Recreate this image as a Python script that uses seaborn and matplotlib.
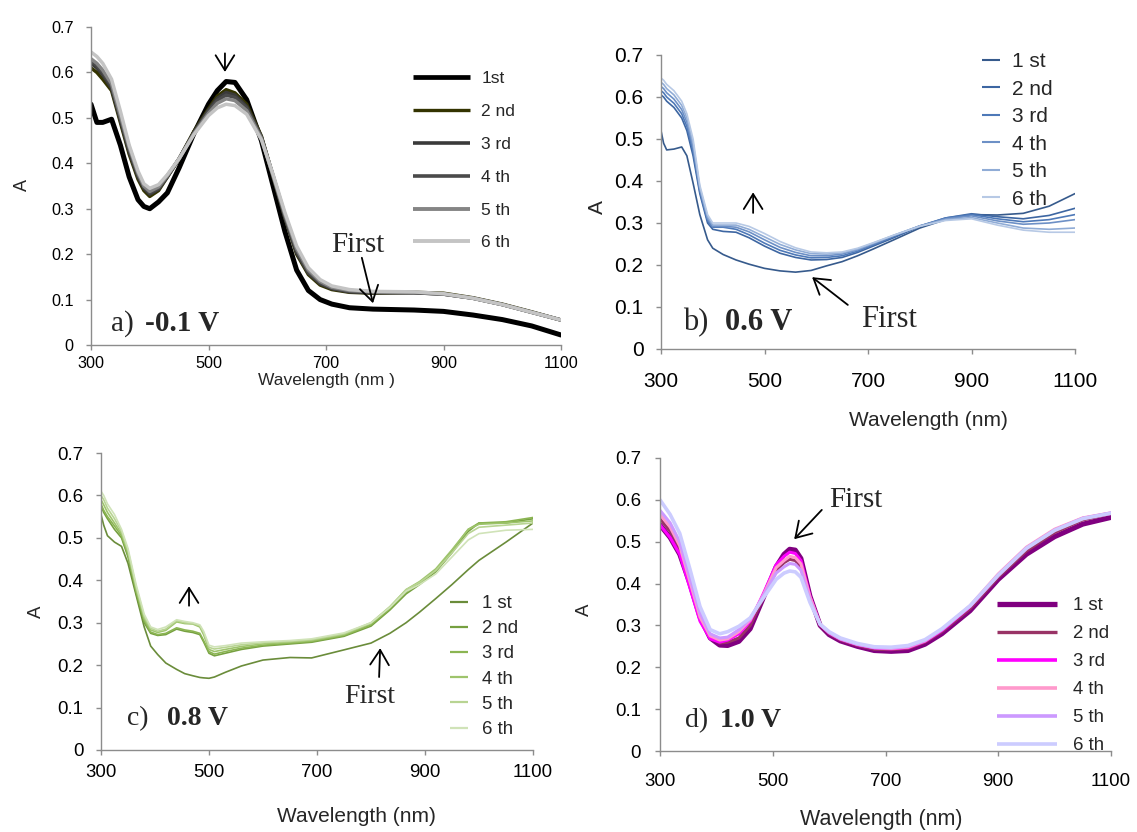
import numpy as np
import pandas as pd
import matplotlib
matplotlib.use("Agg")
import matplotlib.pyplot as plt
import seaborn as sns
from matplotlib.lines import Line2D

# ---------------- data ----------------
RUNS_A = ["1st", "2 nd", "3 rd", "4 th", "5 th", "6 th"]
RUNS = ["1 st", "2 nd", "3 rd", "4 th", "5 th", "6 th"]

# panel a) -0.1 V
WL_A = [300, 310, 320, 335, 350, 365, 380, 390, 400, 415, 430, 450, 475, 500, 515, 530, 545,
        565, 590, 610, 630, 650, 670, 690, 710, 740, 780, 850, 900, 950, 1000, 1050, 1100]
A1 = [0.53, 0.49, 0.49, 0.497, 0.44, 0.37, 0.32, 0.305, 0.30, 0.315, 0.335, 0.39, 0.465, 0.53, 0.56, 0.58, 0.578,
      0.54, 0.45, 0.35, 0.25, 0.165, 0.12, 0.10, 0.09, 0.082, 0.079, 0.077, 0.074, 0.066, 0.056, 0.042, 0.022]
A2 = [0.61, 0.60, 0.585, 0.56, 0.49, 0.42, 0.365, 0.34, 0.327, 0.34, 0.37, 0.41, 0.47, 0.52, 0.548, 0.562, 0.555,
      0.53, 0.46, 0.37, 0.28, 0.20, 0.155, 0.132, 0.122, 0.116, 0.114, 0.116, 0.114, 0.104, 0.09, 0.073, 0.055]
A3 = [0.62, 0.61, 0.595, 0.565, 0.495, 0.425, 0.37, 0.345, 0.332, 0.343, 0.37, 0.41, 0.468, 0.517, 0.543, 0.556, 0.55,
      0.525, 0.458, 0.37, 0.28, 0.203, 0.158, 0.135, 0.124, 0.117, 0.115, 0.115, 0.112, 0.103, 0.089, 0.072, 0.055]
A4 = [0.625, 0.615, 0.60, 0.57, 0.50, 0.43, 0.375, 0.348, 0.335, 0.345, 0.372, 0.41, 0.466, 0.515, 0.538, 0.55, 0.545,
      0.522, 0.457, 0.372, 0.283, 0.207, 0.16, 0.137, 0.125, 0.118, 0.116, 0.115, 0.112, 0.103, 0.089, 0.072, 0.055]
A5 = [0.63, 0.62, 0.605, 0.575, 0.505, 0.435, 0.378, 0.35, 0.338, 0.348, 0.373, 0.41, 0.465, 0.51, 0.532, 0.542, 0.538,
      0.516, 0.455, 0.373, 0.287, 0.212, 0.165, 0.14, 0.127, 0.12, 0.117, 0.116, 0.112, 0.103, 0.089, 0.072, 0.055]
A6 = [0.645, 0.635, 0.62, 0.585, 0.515, 0.44, 0.383, 0.355, 0.345, 0.353, 0.375, 0.41, 0.463, 0.505, 0.522, 0.53, 0.527,
      0.508, 0.452, 0.375, 0.292, 0.218, 0.17, 0.144, 0.13, 0.122, 0.118, 0.117, 0.113, 0.103, 0.089, 0.072, 0.055]

# panel b) 0.6 V
WL_B = [300, 305, 311, 325, 340, 350, 362, 375, 390, 400, 420, 445, 470, 500, 530, 560, 590, 620, 650, 680,
        710, 750, 800, 850, 900, 950, 1000, 1050, 1100]
B1 = [0.52, 0.49, 0.474, 0.476, 0.481, 0.46, 0.395, 0.32, 0.26, 0.24, 0.225, 0.212, 0.202, 0.192, 0.186, 0.183,
      0.187, 0.198, 0.208, 0.222, 0.238, 0.26, 0.288, 0.308, 0.32, 0.319, 0.323, 0.34, 0.37]
B2 = [0.605, 0.60, 0.59, 0.575, 0.55, 0.52, 0.46, 0.37, 0.30, 0.285, 0.28, 0.278, 0.265, 0.245, 0.228, 0.218,
      0.212, 0.213, 0.218, 0.23, 0.245, 0.265, 0.292, 0.312, 0.322, 0.315, 0.31, 0.318, 0.335]
B3 = [0.615, 0.61, 0.60, 0.585, 0.56, 0.53, 0.47, 0.375, 0.305, 0.29, 0.29, 0.285, 0.272, 0.252, 0.235, 0.224,
      0.217, 0.218, 0.222, 0.233, 0.248, 0.268, 0.293, 0.312, 0.32, 0.31, 0.303, 0.308, 0.32]
B4 = [0.625, 0.62, 0.61, 0.595, 0.57, 0.54, 0.48, 0.38, 0.31, 0.292, 0.292, 0.29, 0.279, 0.26, 0.242, 0.23,
      0.222, 0.222, 0.226, 0.236, 0.25, 0.27, 0.293, 0.31, 0.317, 0.305, 0.297, 0.30, 0.308]
B5 = [0.635, 0.63, 0.62, 0.605, 0.58, 0.55, 0.49, 0.385, 0.315, 0.295, 0.295, 0.295, 0.285, 0.267, 0.249, 0.236,
      0.227, 0.226, 0.229, 0.238, 0.252, 0.271, 0.293, 0.308, 0.313, 0.30, 0.288, 0.285, 0.288]
B6 = [0.645, 0.64, 0.63, 0.615, 0.59, 0.56, 0.50, 0.39, 0.32, 0.30, 0.30, 0.30, 0.292, 0.275, 0.256, 0.241,
      0.231, 0.229, 0.231, 0.24, 0.253, 0.271, 0.292, 0.306, 0.31, 0.295, 0.283, 0.278, 0.278]

# panel c) 0.8 V
WL_C = [300, 305, 312, 325, 338, 350, 365, 380, 392, 405, 420, 440, 455, 470, 483, 490, 500, 510, 530, 560,
        600, 650, 690, 750, 800, 835, 865, 890, 920, 950, 980, 1000, 1050, 1100]
C1 = [0.555, 0.53, 0.505, 0.49, 0.48, 0.44, 0.365, 0.29, 0.245, 0.225, 0.205, 0.19, 0.18, 0.175, 0.171, 0.17,
      0.169, 0.172, 0.183, 0.198, 0.212, 0.218, 0.217, 0.236, 0.252, 0.275, 0.30, 0.325, 0.357, 0.39, 0.425,
      0.447, 0.49, 0.535]
C2 = [0.575, 0.56, 0.545, 0.52, 0.50, 0.455, 0.37, 0.30, 0.275, 0.27, 0.272, 0.285, 0.28, 0.277, 0.272, 0.255,
      0.228, 0.222, 0.228, 0.237, 0.245, 0.25, 0.254, 0.268, 0.292, 0.33, 0.368, 0.39, 0.42, 0.465, 0.515,
      0.535, 0.535, 0.545]
C3 = [0.58, 0.565, 0.55, 0.528, 0.505, 0.46, 0.375, 0.305, 0.278, 0.272, 0.275, 0.288, 0.283, 0.28, 0.275, 0.258,
      0.232, 0.226, 0.232, 0.24, 0.247, 0.252, 0.256, 0.27, 0.295, 0.333, 0.372, 0.393, 0.424, 0.47, 0.52,
      0.535, 0.538, 0.548]
C4 = [0.59, 0.578, 0.56, 0.535, 0.51, 0.465, 0.38, 0.31, 0.283, 0.277, 0.282, 0.302, 0.298, 0.297, 0.29, 0.272,
      0.237, 0.232, 0.237, 0.244, 0.25, 0.254, 0.258, 0.272, 0.298, 0.337, 0.378, 0.397, 0.427, 0.472, 0.52,
      0.532, 0.535, 0.54]
C5 = [0.60, 0.59, 0.57, 0.545, 0.515, 0.47, 0.385, 0.315, 0.287, 0.28, 0.285, 0.305, 0.30, 0.298, 0.293, 0.277,
      0.242, 0.238, 0.242, 0.248, 0.253, 0.256, 0.26, 0.274, 0.30, 0.338, 0.378, 0.395, 0.423, 0.465, 0.51,
      0.525, 0.53, 0.535]
C6 = [0.61, 0.60, 0.58, 0.555, 0.52, 0.475, 0.39, 0.32, 0.29, 0.284, 0.29, 0.307, 0.303, 0.30, 0.295, 0.28,
      0.247, 0.243, 0.246, 0.252, 0.255, 0.258, 0.262, 0.276, 0.30, 0.336, 0.374, 0.39, 0.415, 0.455, 0.495,
      0.51, 0.518, 0.52]

# panel d) 1.0 V
WL_D = [300, 318, 335, 353, 371, 389, 406, 420, 440, 460, 483, 506, 520, 530, 540, 550, 566, 584, 600, 620,
        650, 680, 710, 740, 770, 800, 850, 900, 950, 1000, 1050, 1100]
D1 = [0.54, 0.51, 0.47, 0.40, 0.32, 0.27, 0.253, 0.252, 0.262, 0.292, 0.365, 0.44, 0.47, 0.482, 0.48, 0.46,
      0.37, 0.30, 0.278, 0.263, 0.25, 0.24, 0.238, 0.24, 0.255, 0.28, 0.335, 0.41, 0.47, 0.512, 0.542, 0.558]
D2 = [0.555, 0.525, 0.485, 0.405, 0.32, 0.272, 0.258, 0.26, 0.27, 0.30, 0.365, 0.43, 0.45, 0.458, 0.455, 0.44,
      0.365, 0.30, 0.28, 0.265, 0.252, 0.243, 0.242, 0.245, 0.26, 0.285, 0.34, 0.415, 0.478, 0.522, 0.552, 0.567]
D3 = [0.54, 0.51, 0.47, 0.39, 0.31, 0.268, 0.26, 0.265, 0.28, 0.31, 0.375, 0.445, 0.465, 0.475, 0.472, 0.455,
      0.37, 0.302, 0.282, 0.267, 0.254, 0.246, 0.244, 0.247, 0.262, 0.288, 0.345, 0.42, 0.485, 0.528, 0.556, 0.568]
D4 = [0.565, 0.535, 0.49, 0.405, 0.32, 0.275, 0.265, 0.268, 0.285, 0.313, 0.372, 0.438, 0.455, 0.465, 0.462, 0.447,
      0.368, 0.303, 0.283, 0.268, 0.255, 0.247, 0.245, 0.248, 0.263, 0.29, 0.347, 0.423, 0.487, 0.53, 0.557, 0.569]
D5 = [0.575, 0.545, 0.50, 0.415, 0.33, 0.28, 0.27, 0.272, 0.29, 0.316, 0.37, 0.425, 0.44, 0.448, 0.446, 0.432,
      0.36, 0.302, 0.283, 0.268, 0.255, 0.247, 0.246, 0.25, 0.264, 0.29, 0.346, 0.42, 0.485, 0.528, 0.556, 0.569]
D6 = [0.60, 0.565, 0.52, 0.435, 0.345, 0.29, 0.28, 0.285, 0.298, 0.318, 0.365, 0.41, 0.425, 0.43, 0.428, 0.415,
      0.355, 0.303, 0.285, 0.27, 0.257, 0.249, 0.248, 0.252, 0.266, 0.292, 0.347, 0.42, 0.484, 0.527, 0.555, 0.568]

X_TICKS = [300, 500, 700, 900, 1100]
Y_TICKS = [0, 0.1, 0.2, 0.3, 0.4, 0.5, 0.6, 0.7]
Y_TICK_LABELS = ["0", "0.1", "0.2", "0.3", "0.4", "0.5", "0.6", "0.7"]

COLORS_A = ["#000000", "#333300", "#3a3a3a", "#4a4a4a", "#858585", "#c4c4c4"]
COLORS_B = ["#365a8c", "#3d66a2", "#4e79b8", "#6d90c6", "#90acd6", "#b7c9e5"]
COLORS_C = ["#6a8c3a", "#76a040", "#8bb552", "#9ec46c", "#b8d492", "#d0e3b8"]
COLORS_D = ["#800080", "#993366", "#ff00ff", "#ff99cc", "#cc99ff", "#ccccff"]

# ---------------- figure ----------------
sns.set_style("ticks")
plt.rcParams['font.family'] = ['Liberation Sans', 'DejaVu Sans']
SERIF = ['Liberation Serif', 'DejaVu Serif']

W, H = 1137, 832
fig = plt.figure(figsize=(W / 100, H / 100), dpi=100)
fig.patch.set_facecolor("white")


def rect(l, t, r, b):
    return [l / W, 1 - b / H, (r - l) / W, (b - t) / H]


def figpt(x, y):
    return (x / W, 1 - y / H)


panels = [
    dict(box=(91, 27, 561, 345), wl=WL_A, ser=[A1, A2, A3, A4, A5, A6], runs=RUNS_A, colors=COLORS_A,
         lws=[3.6, 2.5, 2.5, 2.5, 2.5, 2.5], leg_lws=[3.4, 2.4, 2.6, 2.6, 2.8, 2.8],
         tfs=11.7, xpad=4, ypad=9,
         leg=dict(x=413, y=71, fs=12.5, hl=3.3, tp=0.63, ls=1.02),
         xlab=("Wavelength (nm )", 326, 381, 12.5), ylab=(22, 185, 13)),
    dict(box=(661, 55, 1075, 349), wl=WL_B, ser=[B1, B2, B3, B4, B5, B6], runs=RUNS, colors=COLORS_B,
         lws=[1.2] * 6, leg_lws=[1.5] * 6,
         tfs=15, xpad=13, ypad=9,
         leg=dict(x=982, y=52, fs=15, hl=0.87, tp=0.58, ls=0.41),
         xlab=("Wavelength (nm)", 928, 421, 15), ylab=(597, 207, 15)),
    dict(box=(101, 453, 533, 750), wl=WL_C, ser=[C1, C2, C3, C4, C5, C6], runs=RUNS, colors=COLORS_C,
         lws=[1.2] * 6, leg_lws=[1.6] * 6,
         tfs=13.4, xpad=6.5, ypad=9,
         leg=dict(x=450, y=595, fs=13.4, hl=0.97, tp=0.75, ls=0.44),
         xlab=("Wavelength (nm)", 356, 817, 15), ylab=(36, 612, 13.4)),
    dict(box=(660, 458, 1111, 751), wl=WL_D, ser=[D1, D2, D3, D4, D5, D6], runs=RUNS, colors=COLORS_D,
         lws=[3.6, 2.2, 2.2, 2.2, 2.2, 2.6], leg_lws=[3.8, 2.4, 2.6, 2.6, 2.6, 2.6],
         tfs=13.4, xpad=12, ypad=10,
         leg=dict(x=997, y=597, fs=13.4, hl=3.2, tp=0.86, ls=0.59),
         xlab=("Wavelength (nm)", 881, 820, 15.5), ylab=(584, 610, 13.4)),
]

axes = []
for p in panels:
    ax = fig.add_axes(rect(*p["box"]))
    axes.append(ax)
    frames = []
    for run, vals in zip(p["runs"], p["ser"]):
        frames.append(pd.DataFrame({"wl": p["wl"], "A": vals, "run": run}))
    df = pd.concat(frames, ignore_index=True)
    pal = dict(zip(p["runs"], p["colors"]))
    sizes = dict(zip(p["runs"], p["lws"]))
    sns.lineplot(data=df, x="wl", y="A", hue="run", hue_order=p["runs"], palette=pal,
                 size="run", size_order=p["runs"], sizes=sizes, ax=ax, legend=False,
                 estimator=None, sort=False)
    for ln in ax.get_lines():
        ln.set_solid_joinstyle("round")
    ax.set_xlim(300, 1100)
    ax.set_ylim(0, 0.7)
    ax.set_xticks(X_TICKS)
    ax.set_xticklabels([str(t) for t in X_TICKS])
    ax.set_yticks(Y_TICKS)
    ax.set_yticklabels(Y_TICK_LABELS)
    ax.set_xlabel("")
    ax.set_ylabel("")
    for s in ["top", "right"]:
        ax.spines[s].set_visible(False)
    for s in ["left", "bottom"]:
        ax.spines[s].set_color("#8c8c8c")
        ax.spines[s].set_linewidth(1.0)
    ax.tick_params(axis="both", direction="out", length=3.6, width=1.0, color="#8c8c8c",
                   labelsize=p["tfs"], labelcolor="black")
    ax.tick_params(axis="x", pad=p["xpad"])
    ax.tick_params(axis="y", pad=p["ypad"])
    ax.set_facecolor("none")

    handles = [Line2D([], [], color=c, lw=lw, solid_capstyle="butt")
               for c, lw in zip(p["colors"], p["leg_lws"])]
    lg = p["leg"]
    ax.legend(handles, p["runs"], loc="upper left", bbox_to_anchor=figpt(lg["x"], lg["y"]),
              bbox_transform=fig.transFigure, frameon=False, fontsize=lg["fs"],
              handlelength=lg["hl"], handletextpad=lg["tp"], labelspacing=lg["ls"],
              borderpad=0, borderaxespad=0)

    t, xx, yy, fs = p["xlab"]
    fig.text(*figpt(xx, yy), t, ha="center", va="center", fontsize=fs)
    xx, yy, fs = p["ylab"]
    fig.text(*figpt(xx, yy), "A", ha="center", va="center", fontsize=fs, rotation=90)

axA, axB, axC, axD = axes
arrow = dict(arrowstyle="->,head_length=0.45,head_width=0.28", color="black", lw=1.3,
             shrinkA=0, shrinkB=0, mutation_scale=24)

# a)
axA.annotate("", xy=(528, 0.601), xytext=(528, 0.642), arrowprops=arrow, annotation_clip=False)
axA.annotate("", xy=(780, 0.092), xytext=(761, 0.192), arrowprops=arrow)
axA.text(708, 0.22, "First", family=SERIF, fontsize=21, ha="left", va="center")
axA.text(334, 0.048, "a)", family=SERIF, fontsize=21, ha="left", va="center")
axA.text(392, 0.048, "-0.1 V", family=SERIF, fontsize=21, fontweight="bold", ha="left", va="center")

# b)
axB.annotate("", xy=(478, 0.373), xytext=(478, 0.324), arrowprops=arrow)
axB.annotate("", xy=(592, 0.171), xytext=(661, 0.105), arrowprops=arrow)
axB.text(686, 0.071, "First", family=SERIF, fontsize=22, ha="left", va="center")
axB.text(343, 0.064, "b)", family=SERIF, fontsize=22, ha="left", va="center")
axB.text(424, 0.064, "0.6 V", family=SERIF, fontsize=22, fontweight="bold", ha="left", va="center")

# c)
axC.annotate("", xy=(463, 0.386), xytext=(463, 0.340), arrowprops=arrow)
axC.annotate("", xy=(817, 0.240), xytext=(815, 0.172), arrowprops=arrow)
axC.text(798, 0.125, "First", family=SERIF, fontsize=20, ha="center", va="center")
axC.text(348, 0.075, "c)", family=SERIF, fontsize=20, ha="left", va="center")
axC.text(422, 0.075, "0.8 V", family=SERIF, fontsize=20, fontweight="bold", ha="left", va="center")

# d)
axD.annotate("", xy=(538, 0.506), xytext=(587, 0.576), arrowprops=arrow)
axD.text(600, 0.60, "First", family=SERIF, fontsize=21, ha="left", va="center")
axD.text(344, 0.072, "d)", family=SERIF, fontsize=20, ha="left", va="center")
axD.text(406, 0.072, "1.0 V", family=SERIF, fontsize=20, fontweight="bold", ha="left", va="center")

fig.savefig("out.png", dpi=100, facecolor="white")
